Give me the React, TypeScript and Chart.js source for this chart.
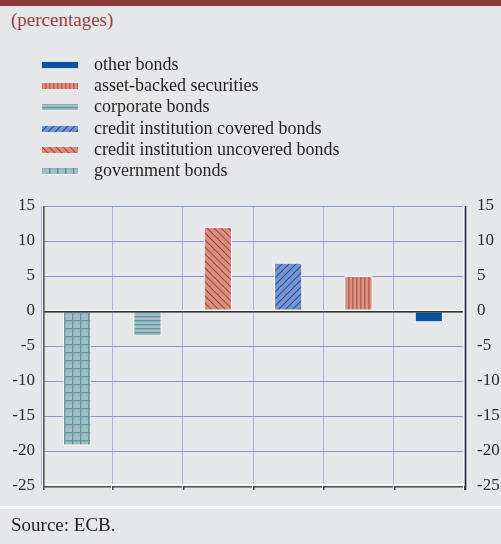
import React, { useEffect, useRef } from "react";
import { Chart, registerables } from "chart.js";

Chart.register(...registerables);

const categories = [
  "government bonds",
  "corporate bonds",
  "credit institution uncovered bonds",
  "credit institution covered bonds",
  "asset-backed securities",
  "other bonds",
];
const values = [-19.2, -3.6, 12.0, 6.9, 5.0, -1.6];
const patternKinds = ["grid", "hlines", "back", "fwd", "vlines", "solid"];
const legendOrder = [
  "other bonds",
  "asset-backed securities",
  "corporate bonds",
  "credit institution covered bonds",
  "credit institution uncovered bonds",
  "government bonds",
];
const yMin = -25;
const yMax = 15;
const yStep = 5;

const FONT = '"Liberation Serif", "Times New Roman", serif';
const BG = "#e6e7e9";

function makePattern(ctx: CanvasRenderingContext2D, kind: string): CanvasPattern | string {
  if (kind === "solid") return "#0a52a0";
  const c = document.createElement("canvas");
  const g = c.getContext("2d")!;
  if (kind === "grid") {
    c.width = 8; c.height = 8;
    g.fillStyle = "#a3bdc4"; g.fillRect(0, 0, 8, 8);
    g.fillStyle = "#5e96a0";
    g.fillRect(0, 0, 8, 1.3); g.fillRect(0, 0, 1.3, 8);
  } else if (kind === "hlines") {
    c.width = 4; c.height = 4;
    g.fillStyle = "#a2bdc4"; g.fillRect(0, 0, 4, 4);
    g.fillStyle = "#5e96a0"; g.fillRect(0, 0, 4, 1.3);
  } else if (kind === "back") {
    c.width = 7; c.height = 7;
    g.fillStyle = "#d4917f"; g.fillRect(0, 0, 7, 7);
    g.strokeStyle = "#b1443c"; g.lineWidth = 1.1;
    g.beginPath();
    g.moveTo(-1, -1); g.lineTo(8, 8);
    g.moveTo(-1, 6); g.lineTo(1, 8);
    g.moveTo(6, -1); g.lineTo(8, 1);
    g.stroke();
  } else if (kind === "fwd") {
    c.width = 7; c.height = 7;
    g.fillStyle = "#7b92ca"; g.fillRect(0, 0, 7, 7);
    g.strokeStyle = "#1a55b2"; g.lineWidth = 1.1;
    g.beginPath();
    g.moveTo(-1, 8); g.lineTo(8, -1);
    g.moveTo(-1, 1); g.lineTo(1, -1);
    g.moveTo(6, 8); g.lineTo(8, 6);
    g.stroke();
  } else if (kind === "vlines") {
    c.width = 4; c.height = 4;
    g.fillStyle = "#d79484"; g.fillRect(0, 0, 4, 4);
    g.fillStyle = "#bc6257"; g.fillRect(0, 0, 1.6, 4);
  }
  return ctx.createPattern(c, "repeat")!;
}

const axisDecor = {
  id: "axisDecor",
  afterDatasetsDraw(chart: any) {
    const { ctx, chartArea } = chart;
    const y = chart.scales.y;
    const x = chart.scales.x;
    const { left, right, top, bottom } = chartArea;
    ctx.save();
    // zero line
    const y0 = Math.round(y.getPixelForValue(0));
    ctx.fillStyle = "#ffffff";
    ctx.fillRect(left, y0 - 1, right - left, 1);
    ctx.fillStyle = "#333333";
    ctx.fillRect(left, y0, right - left, 1.6);
    // bottom line
    ctx.fillStyle = "#ffffff";
    ctx.fillRect(left, bottom - 2, right - left, 1.6);
    ctx.fillStyle = "#555555";
    ctx.fillRect(left, bottom, right - left, 1.6);
    // ticks at category boundaries
    const n = x.ticks.length;
    const step = x.getPixelForValue(1) - x.getPixelForValue(0);
    for (let i = 0; i <= n; i++) {
      const px = Math.round(i < n ? x.getPixelForValue(i) - step / 2 : right);
      ctx.fillStyle = "#ffffff";
      ctx.fillRect(px - 1, bottom, 1, 4);
      ctx.fillStyle = "#444444";
      ctx.fillRect(px, bottom, 1.5, 4);
    }
    // left axis
    ctx.fillStyle = "#ffffff";
    ctx.fillRect(left, top, 1, bottom - top + 4);
    ctx.fillStyle = "#555555";
    ctx.fillRect(left + 1, top, 1.6, bottom - top + 4);
    // right axis
    ctx.fillStyle = "#ffffff";
    ctx.fillRect(right - 1, top, 1, bottom - top);
    ctx.fillStyle = "#222222";
    ctx.fillRect(right + 1, top, 1.3, bottom - top + 4);
    ctx.restore();
  },
};

function Swatch({ kind }: { kind: string }) {
  const ref = useRef<HTMLCanvasElement>(null);
  useEffect(() => {
    const c = ref.current!;
    const g = c.getContext("2d")!;
    g.clearRect(0, 0, c.width, c.height);
    g.fillStyle = makePattern(g, kind) as any;
    g.fillRect(0, 0, c.width, c.height);
    g.strokeStyle = "rgba(255,255,255,0.8)";
    g.lineWidth = 1;
    g.strokeRect(0.5, 0.5, c.width - 1, c.height - 1);
  }, [kind]);
  return <canvas ref={ref} width={38} height={8} style={{ display: "block" }} />;
}

export default function App() {
  const canvasRef = useRef<HTMLCanvasElement>(null);

  useEffect(() => {
    const canvas = canvasRef.current!;
    const ctx = canvas.getContext("2d")!;
    const patterns = patternKinds.map((k) => makePattern(ctx, k));
    const tickFont = { family: FONT, size: 17 };
    const chart = new Chart(canvas, {
      type: "bar",
      data: {
        labels: categories,
        datasets: [
          {
            data: values,
            backgroundColor: patterns as any,
            borderColor: "#ffffff",
            borderWidth: 1,
            borderSkipped: false,
            categoryPercentage: 1,
            barPercentage: 0.4,
          },
        ],
      },
      options: {
        responsive: false,
        animation: false,
        devicePixelRatio: 1,
        layout: { padding: { top: 206, bottom: 58, left: 0, right: 0 } },
        plugins: { legend: { display: false }, tooltip: { enabled: false }, title: { display: false } },
        scales: {
          x: {
            type: "category",
            offset: true,
            grid: { color: "#a7b4de", lineWidth: 1, offset: true, drawTicks: false },
            border: { display: false },
            ticks: { display: false },
          },
          y: {
            position: "left",
            min: yMin,
            max: yMax,
            ticks: { stepSize: yStep, color: "#2b2b2b", font: tickFont, padding: 7 },
            grid: { color: "#8498d2", lineWidth: 1, drawTicks: false },
            border: { display: false },
            afterFit: (s: any) => { s.width = 42; },
          },
          y2: {
            position: "right",
            min: yMin,
            max: yMax,
            ticks: { stepSize: yStep, color: "#2b2b2b", font: tickFont, padding: 13 },
            grid: { display: false, drawTicks: false },
            border: { display: false },
            afterFit: (s: any) => { s.width = 37; },
          },
        },
      } as any,
      plugins: [axisDecor],
    });
    return () => chart.destroy();
  }, []);

  const legendKind: Record<string, string> = {};
  categories.forEach((c, i) => (legendKind[c] = patternKinds[i]));

  return (
    <div style={{ position: "relative", width: 501, height: 544, background: BG, overflow: "hidden", fontFamily: FONT }}>
      <style>{`body{margin:0}`}</style>
      <div style={{ position: "absolute", left: 0, top: 0, width: 501, height: 6, background: "#8c393d" }} />
      <div style={{ position: "absolute", left: 11, top: 7, fontSize: 19, lineHeight: "26px", color: "#963f47" }}>
        (percentages)
      </div>
      <canvas ref={canvasRef} width={501} height={544} style={{ position: "absolute", left: 0, top: 0, width: 501, height: 544 }} />
      {legendOrder.map((name, i) => (
        <div
          key={name}
          style={{ position: "absolute", left: 0, top: 65 + i * 21.2 - 11, height: 22, width: 400 }}
        >
          <div style={{ position: "absolute", left: 41, top: 7 }}>
            <Swatch kind={legendKind[name]} />
          </div>
          <div style={{ position: "absolute", left: 94, top: 0, fontSize: 18, lineHeight: "20px", color: "#231f20", whiteSpace: "nowrap" }}>
            {name}
          </div>
        </div>
      ))}
      <div style={{ position: "absolute", left: 0, top: 506, width: 501, height: 3, background: "#f7f7f7" }} />
      <div style={{ position: "absolute", left: 11, top: 512, fontSize: 19, lineHeight: "26px", color: "#231f20" }}>
        Source: ECB.
      </div>
    </div>
  );
}
